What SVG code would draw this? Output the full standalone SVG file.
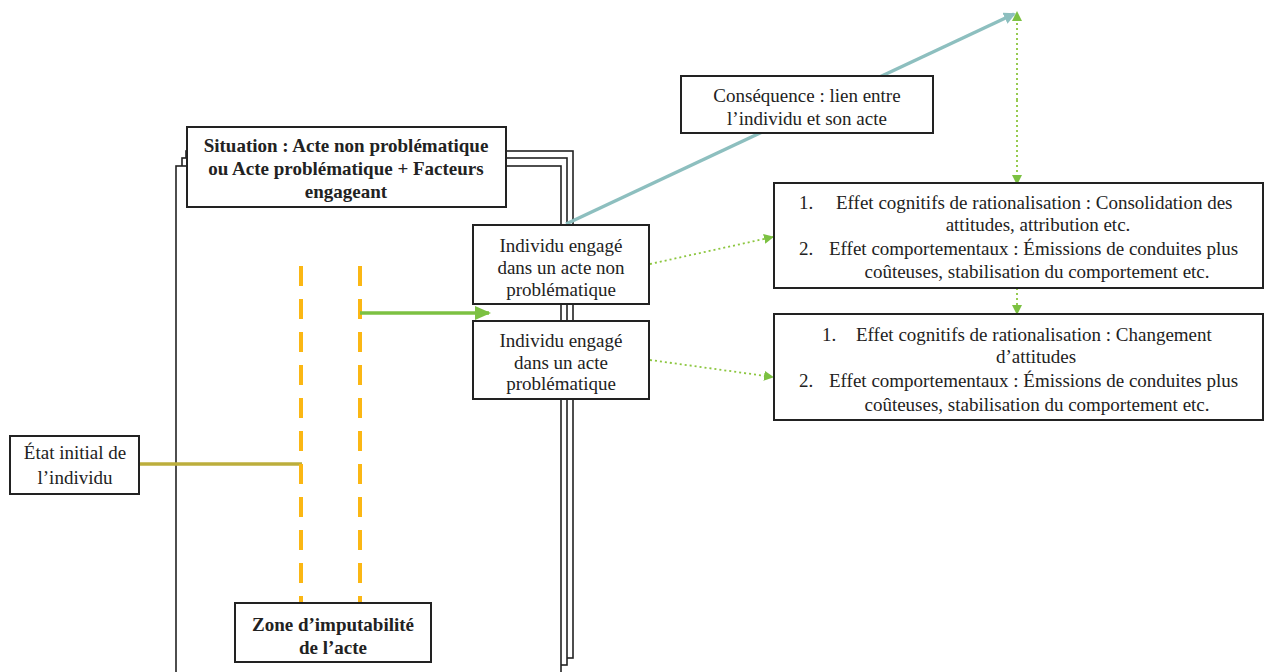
<svg xmlns="http://www.w3.org/2000/svg" width="1269" height="672" viewBox="0 0 1269 672">
<style>
.box{fill:#fff;stroke:#222;stroke-width:2}
.page{fill:#fff;stroke:#222;stroke-width:1.6}
.t{font-family:"Liberation Serif","Times New Roman",serif;font-size:19px;fill:#222}
.b{font-weight:bold}
.m{text-anchor:middle}
.dot{stroke:#8cc63f;stroke-width:1.8;stroke-dasharray:2 3;fill:none}
</style>
<defs>
<marker id="ag" markerWidth="10" markerHeight="10" refX="9" refY="5" orient="auto" markerUnits="userSpaceOnUse"><path d="M0,0 L10,5 L0,10 z" fill="#7cc142"/></marker>
<marker id="agb" markerWidth="16" markerHeight="14" refX="14" refY="7" orient="auto" markerUnits="userSpaceOnUse"><path d="M0,0 L16,7 L0,14 z" fill="#7cc142"/></marker>
<marker id="at" markerWidth="12" markerHeight="12" refX="10" refY="6" orient="auto" markerUnits="userSpaceOnUse"><path d="M0,0 L12,6 L0,12 z" fill="#8dbfbf"/></marker>
</defs>
<g id="pages">
<rect class="page" x="186" y="151" width="387" height="507"/>
<rect class="page" x="182" y="158" width="385" height="507"/>
<rect class="page" x="176" y="166" width="385" height="520"/>
</g>
<g id="connectors">
<line x1="566" y1="224" x2="1014" y2="14" stroke="#8dbfbf" stroke-width="3.5" marker-end="url(#at)"/>
<line x1="139" y1="464" x2="302" y2="464" stroke="#bcae3c" stroke-width="3.5"/>
<line x1="301" y1="266" x2="301" y2="603" stroke="#fbb714" stroke-width="4" stroke-dasharray="20 13"/>
<line x1="360" y1="266" x2="360" y2="603" stroke="#fbb714" stroke-width="4" stroke-dasharray="20 13"/>
<line x1="360" y1="313" x2="489" y2="313" stroke="#7cc142" stroke-width="3.5" marker-end="url(#agb)"/>
<line class="dot" x1="650" y1="264" x2="773" y2="237" marker-end="url(#ag)"/>
<line class="dot" x1="650" y1="360" x2="773" y2="377" marker-end="url(#ag)"/>
<line class="dot" x1="1017" y1="100" x2="1017" y2="12" marker-end="url(#ag)"/>
<line class="dot" x1="1017" y1="100" x2="1017" y2="184" marker-end="url(#ag)"/>
<line class="dot" x1="1017" y1="288" x2="1017" y2="314" marker-end="url(#ag)"/>
</g>
<g id="situation">
<rect class="box" x="187" y="127" width="319" height="80"/>
<text class="t b m" x="346" y="152">Situation : Acte non problématique</text>
<text class="t b m" x="346" y="175">ou Acte problématique + Facteurs</text>
<text class="t b m" x="346" y="198">engageant</text>
</g>
<g id="individu-non-probleme">
<rect class="box" x="473" y="225" width="176" height="79"/>
<text class="t m" x="561" y="252">Individu engagé</text>
<text class="t m" x="561" y="274">dans un acte non</text>
<text class="t m" x="561" y="296">problématique</text>
</g>
<g id="individu-probleme">
<rect class="box" x="473" y="321" width="176" height="78"/>
<text class="t m" x="561" y="347">Individu engagé</text>
<text class="t m" x="561" y="369">dans un acte</text>
<text class="t m" x="561" y="390">problématique</text>
</g>
<g id="consequence">
<rect class="box" x="681" y="76" width="252" height="57"/>
<text class="t m" x="807" y="102">Conséquence : lien entre</text>
<text class="t m" x="807" y="125">l’individu et son acte</text>
</g>
<g id="effets-1">
<rect class="box" x="774" y="183" width="489" height="105"/>
<text class="t" x="799" y="209">1.</text>
<text class="t" x="836" y="209">Effet cognitifs de rationalisation : Consolidation des</text>
<text class="t m" x="1038" y="231">attitudes, attribution etc.</text>
<text class="t" x="799" y="255">2.</text>
<text class="t" x="829" y="255">Effet comportementaux : Émissions de conduites plus</text>
<text class="t m" x="1037" y="278">coûteuses, stabilisation du comportement etc.</text>
</g>
<g id="effets-2">
<rect class="box" x="774" y="314" width="489" height="106"/>
<text class="t" x="822" y="341">1.</text>
<text class="t" x="856" y="341">Effet cognitifs de rationalisation : Changement</text>
<text class="t m" x="1036" y="363">d’attitudes</text>
<text class="t" x="799" y="387">2.</text>
<text class="t" x="829" y="387">Effet comportementaux : Émissions de conduites plus</text>
<text class="t m" x="1037" y="411">coûteuses, stabilisation du comportement etc.</text>
</g>
<g id="etat-initial">
<rect class="box" x="10" y="436" width="129" height="58"/>
<text class="t m" x="75" y="459">État initial de</text>
<text class="t m" x="75" y="484">l’individu</text>
</g>
<g id="zone">
<rect class="box" x="235" y="603" width="196" height="59"/>
<text class="t b m" x="333" y="631">Zone d’imputabilité</text>
<text class="t b m" x="333" y="654">de l’acte</text>
</g>
</svg>
